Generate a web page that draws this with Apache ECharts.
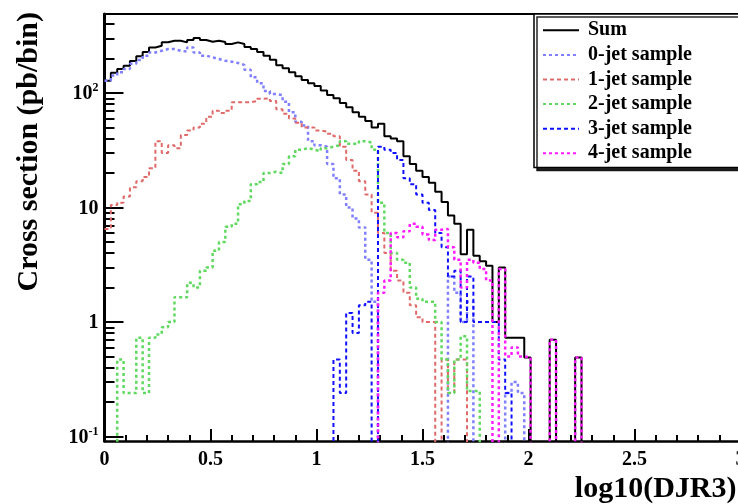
<!DOCTYPE html>
<html>
<head>
<meta charset="utf-8">
<script src="https://cdn.jsdelivr.net/npm/echarts@6/dist/echarts.min.js"></script>
<style>
html,body{margin:0;padding:0;background:#ffffff;}
#chart{width:738px;height:504px;}
</style>
</head>
<body>
<div id="chart"></div>
<script>
// ---- histogram binning ----
const binWidth = 0.03;           // 100 bins over 0..3, only first 76 drawn (rest empty)

// ---- series values (pb/bin), one entry per bin; 0 = empty bin ----
const sumValues = [
  128,150,162,173,190,210,228,250,259,278,
  286,286,277,290,302,290,280,286,279,268,
  277,268,252,242,228,212,195,175,165,152,
  140,130,122,115,105,96,90,82,75,68,
  62,57,50,54,42,40,38,28,24,21,
  18.5,16.5,13.7,11.2,8.5,7.2,3.9,6.4,3.8,3.4,
  3.1,1.0,3.0,0.73,0.73,0.73,0.49,0,0,0,
  0.7,0,0,0,0.49,0
];
const jet0Values = [
  128,142,152,162,180,194,212,226,234,242,
  242,234,230,250,226,212,205,198,191,188,
  183,176,160,137,122,104,98,96,84,68,
  56,52,38,35,34,24,18,13,10,8,
  6.7,3.5,1.5,0,0,0,0,0,0,0,
  0,0,0,0,2.5,1.8,1.0,1.5,0,0,
  0,0,0,0.24,0.3,0.24,0,0,0,0,
  0,0,0,0,0,0
];
const jet1Values = [
  6.5,10.5,11,12.5,15,17,18.5,22,38,30,
  35,33,43,47,50,54,62,70,67,70,
  83,83,83,85,89,90,85,72,66,60,
  55,50,50,47,46,44,42,34,26,21,
  17,13,9,6,4,2.8,2.3,1.8,1.4,1.1,
  1.0,1.0,0,0.47,0.24,0.47,0.47,0,0,0,
  0,0,0,0,0,0,0,0,0,0,
  0,0,0,0,0,0
];
const jet2Values = [
  0,0,0.47,0.24,0.24,0.73,0.24,0.73,0.78,0.9,
  1.0,1.65,1.65,2.2,2.0,2.8,3.0,4.2,5.0,6.8,
  7.2,10.7,11.4,16,16.7,20,20.5,20,24,28,
  32,33,32,31,33,34,35,38,36,36,
  38,37,32,11,6,4.0,3.5,3.3,2.0,1.6,
  1.5,1.5,1.0,0.47,0.24,0.47,0.75,0.25,0.25,0,
  0,0,0,0,0,0,0,0,0,0,
  0,0,0,0,0,0
];
const jet3Values = [
  0,0,0,0,0,0,0,0,0,0,
  0,0,0,0,0,0,0,0,0,0,
  0,0,0,0,0,0,0,0,0,0,
  0,0,0,0,0,0,0.47,0.24,1.2,0.8,
  1.4,1.5,0,34,32,30,26,18,16,13,
  11,9.5,6,4.5,2.5,2.8,1.0,2.5,1.0,1.0,
  1.0,1.0,0.47,0.24,0,0,0,0,0,0,
  0,0,0,0,0,0
];
const jet4Values = [
  0,0,0,0,0,0,0,0,0,0,
  0,0,0,0,0,0,0,0,0,0,
  0,0,0,0,0,0,0,0,0,0,
  0,0,0,0,0,0,0,0,0,0,
  0,0,0,1.8,2.3,6,5.5,6.2,7.2,6.8,
  5.8,5.2,6.4,6.5,4.5,3.5,2.0,3.5,3.3,2.9,
  2.3,0,2.9,0.5,0.6,0.5,0.49,0,0,0,
  0.7,0,0,0,0.49,0
];

const seriesNames = ['Sum','0-jet sample','1-jet sample','2-jet sample','3-jet sample','4-jet sample'];

// ---- axis ticks / labels ----
const xMin = 0, xMax = 3, xInterval = 0.5;
const yMin = 0.0914, yMax = 490;
const yMajorTicks = [0.1, 1, 10, 100];
const yMinorTicks = [0.2,0.3,0.4,0.5,0.6,0.7,0.8,0.9, 2,3,4,5,6,7,8,9, 20,30,40,50,60,70,80,90, 200,300,400];
const yTickLabels = {0.1: '{b|10}{s|-1}', 1: '{b|1}', 10: '{b|10}', 100: '{b|10}{s|2}'};

// ---- build step data through the axes ----
const EMPTY = 0.05; // below the axis floor: empty bins fall out of the frame
function toSteps(vals) {
  const pts = vals.map((v, i) => [Math.round(i * binWidth * 1000) / 1000, v > 0 ? v : EMPTY]);
  const last = vals[vals.length - 1];
  pts.push([Math.round(vals.length * binWidth * 1000) / 1000, last > 0 ? last : EMPTY]);
  return pts;
}

const FONT = 'Liberation Serif';
const styles = [
  {color: '#000000', width: 2, type: 'solid'},
  {color: '#7f7fff', width: 2.5, type: [3, 3]},
  {color: '#e06a6a', width: 2, type: [4, 3]},
  {color: '#5fd95f', width: 2.5, type: [3, 3]},
  {color: '#1010ff', width: 2, type: [4, 3]},
  {color: '#ff1aff', width: 2.5, type: [3, 3]}
];
const allValues = [sumValues, jet0Values, jet1Values, jet2Values, jet3Values, jet4Values];

const series = allValues.map((vals, k) => ({
  name: seriesNames[k],
  type: 'line',
  step: 'end',
  data: toSteps(vals),
  symbol: 'none',
  showSymbol: false,
  clip: true,
  z: 2 + k,
  lineStyle: styles[k],
  itemStyle: {color: styles[k].color},
  emphasis: {disabled: true},
  animation: false
}));

const tickLine = {color: '#000', width: 2};

const chart = echarts.init(document.getElementById('chart'), null, {renderer: 'canvas'});
chart.setOption({
  animation: false,
  backgroundColor: '#ffffff',
  grid: {
    left: 104.5, top: 14, width: 636, height: 427,
    show: false, containLabel: false, outerBoundsMode: 'none'
  },
  legend: {
    data: seriesNames,
    orient: 'vertical',
    left: 534, top: 14,
    padding: [4, 60, 2, 8],
    itemGap: 0,
    itemWidth: 36, itemHeight: 14,
    selectedMode: false,
    backgroundColor: '#ffffff',
    borderColor: '#000', borderWidth: 1.5,
    shadowColor: 'rgba(0,0,0,0.85)', shadowBlur: 0, shadowOffsetX: 3, shadowOffsetY: 3,
    itemStyle: {opacity: 0, borderWidth: 0},
    textStyle: {fontFamily: FONT, fontWeight: 'bold', fontSize: 20, color: '#000', lineHeight: 24.6, padding: [0,0,0,4]}
  },
  xAxis: [{
    type: 'value', min: xMin, max: xMax, interval: xInterval, position: 'bottom',
    name: 'log10(DJR3)', nameLocation: 'end', nameGap: -4, nameMoveOverlap: false,
    nameTextStyle: {fontFamily: FONT, fontWeight: 'bold', fontSize: 30, color: '#000', align: 'right', verticalAlign: 'top', padding: [33,0,0,0]},
    axisLine: {show: true, onZero: false, lineStyle: {color: '#000', width: 2.5}},
    axisTick: {show: true, inside: true, length: 12, lineStyle: tickLine},
    minorTick: {show: true, splitNumber: 5, length: 6, lineStyle: tickLine},
    axisLabel: {show: true, margin: 9, showMinLabel: true, showMaxLabel: true, hideOverlap: false,
      fontFamily: FONT, fontWeight: 'bold', fontSize: 20, color: '#000'},
    splitLine: {show: false}
  }, {
    type: 'value', min: xMin, max: xMax, interval: xInterval, position: 'top',
    axisLine: {show: true, onZero: false, lineStyle: {color: '#000', width: 2}},
    axisTick: {show: false}, axisLabel: {show: false}, splitLine: {show: false}
  }],
  yAxis: [{
    type: 'log', logBase: 10, min: yMin, max: yMax, position: 'left',
    name: 'Cross section (pb/bin)', nameLocation: 'end', nameRotate: 90, nameGap: 2, nameMoveOverlap: false,
    nameTextStyle: {fontFamily: FONT, fontWeight: 'bold', fontSize: 30, color: '#000', align: 'right', verticalAlign: 'bottom', padding: [0,0,60,0]},
    axisLine: {show: true, onZero: false, lineStyle: {color: '#000', width: 3}},
    axisTick: {show: true, inside: true, length: 19, customValues: yMajorTicks, lineStyle: tickLine},
    axisLabel: {show: true, margin: 6, customValues: yMajorTicks, showMinLabel: true, showMaxLabel: true, hideOverlap: false,
      formatter: v => yTickLabels[v] !== undefined ? yTickLabels[v] : String(v),
      rich: {
        b: {fontFamily: FONT, fontWeight: 'bold', fontSize: 20, color: '#000', lineHeight: 22, verticalAlign: 'bottom'},
        s: {fontFamily: FONT, fontWeight: 'bold', fontSize: 12, color: '#000', lineHeight: 12, verticalAlign: 'top'}
      }},
    splitLine: {show: false}
  }, {
    type: 'log', logBase: 10, min: yMin, max: yMax, position: 'left',
    axisLine: {show: false, onZero: false},
    axisTick: {show: true, inside: true, length: 10, customValues: yMinorTicks, lineStyle: tickLine},
    axisLabel: {show: false},
    splitLine: {show: false}
  }],
  series: series
});
</script>
</body>
</html>
